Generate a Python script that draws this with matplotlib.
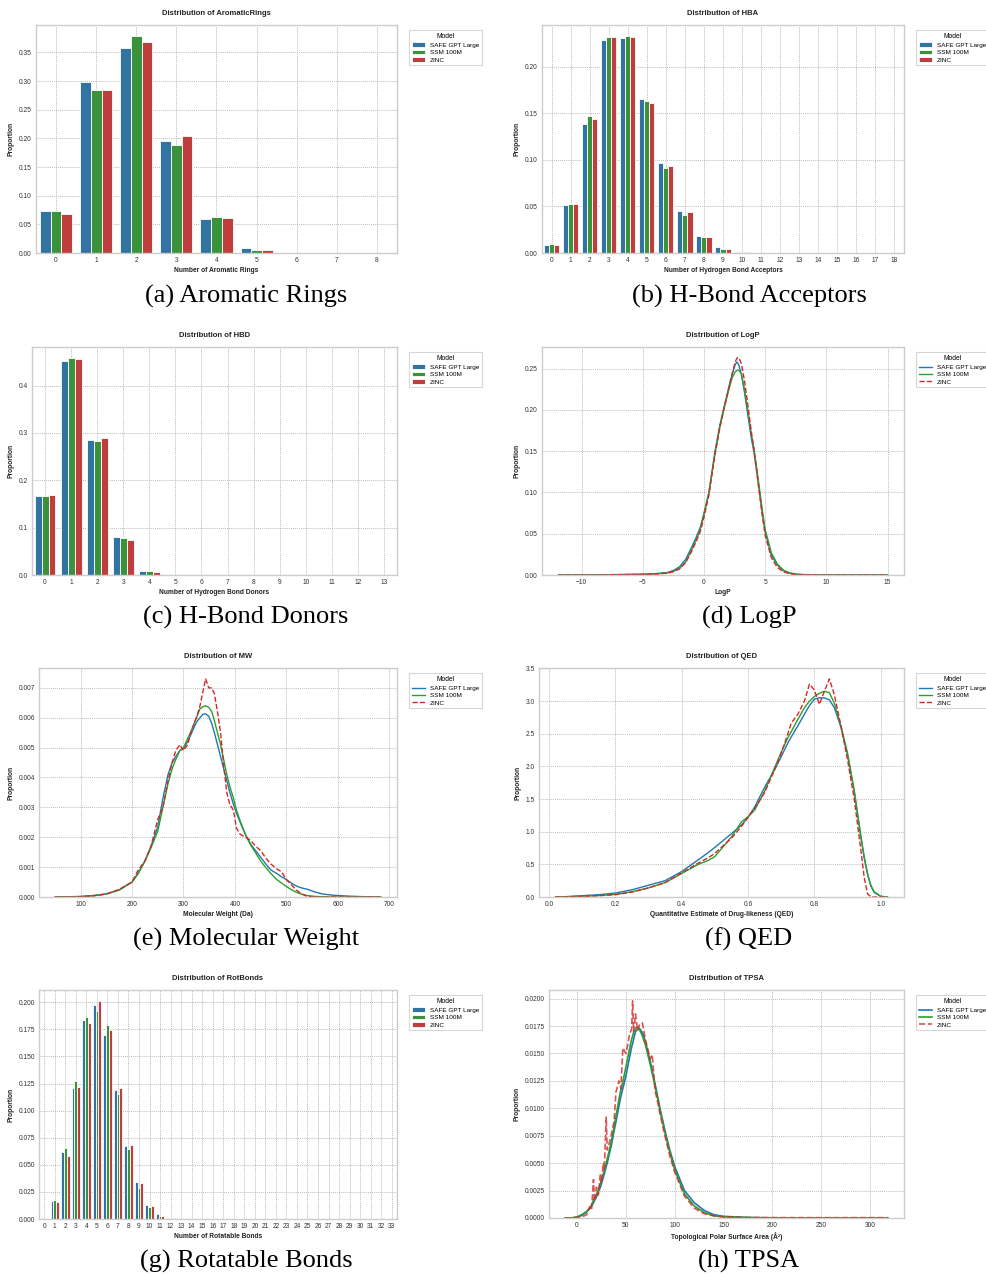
import numpy as np
import matplotlib
matplotlib.use("Agg")
import matplotlib.pyplot as plt

# ---------------- data ----------------
models = ["SAFE GPT Large", "SSM 100M", "ZINC"]

ar_cats = list(range(0, 9))
ar_safe = [0.073, 0.298, 0.357, 0.195, 0.060, 0.008, 0.0004, 0.00003, 0.00001]
ar_ssm = [0.0735, 0.284, 0.379, 0.188, 0.062, 0.006, 0.0003, 0.00002, 0.00001]
ar_zinc = [0.068, 0.285, 0.368, 0.205, 0.061, 0.006, 0.0003, 0.00002, 0.00001]

hba_cats = list(range(0, 19))
hba_safe = [0.0083, 0.051, 0.138, 0.229, 0.2312, 0.1655, 0.0962, 0.045, 0.0187, 0.0068,
            0.0014, 0.0003, 0.0001, 0.00005, 0.00003, 0.00002, 0.00001, 0.00001, 0.00001]
hba_ssm = [0.0097, 0.053, 0.1465, 0.2316, 0.233, 0.163, 0.0908, 0.041, 0.0172, 0.0043,
           0.0006, 0.0001, 0.00004, 0.00002, 0.00001, 0.00001, 0.00001, 0.00001, 0.00001]
hba_zinc = [0.009, 0.053, 0.1436, 0.2316, 0.232, 0.161, 0.0937, 0.0445, 0.0169, 0.0047,
            0.001, 0.0002, 0.00005, 0.00002, 0.00001, 0.00001, 0.00001, 0.00001, 0.00001]

hbd_cats = list(range(0, 14))
hbd_safe = [0.1658, 0.4515, 0.285, 0.081, 0.0092, 0.0007, 0.0001, 0.00004, 0.00002,
            0.00001, 0.00001, 0.00001, 0.00001, 0.00001]
hbd_ssm = [0.1658, 0.4586, 0.282, 0.078, 0.0092, 0.0005, 0.00008, 0.00003, 0.00001,
           0.00001, 0.00001, 0.00001, 0.00001, 0.00001]
hbd_zinc = [0.168, 0.4557, 0.289, 0.074, 0.007, 0.0003, 0.00005, 0.00002, 0.00001,
            0.00001, 0.00001, 0.00001, 0.00001, 0.00001]

rb_cats = list(range(0, 34))
rb_safe = [0.0005, 0.0167, 0.0621, 0.1209, 0.1833, 0.1972, 0.170, 0.1193, 0.0671, 0.0337,
           0.013, 0.0046, 0.0012, 0.0004, 0.0002, 0.0001, 0.00005, 0.00003, 0.00002, 0.00001,
           0.00001, 0.00001, 0.00001, 0.00001, 0.00001, 0.00001, 0.00001, 0.00001, 0.00001,
           0.00001, 0.00001, 0.00001, 0.00001, 0.00001]
rb_ssm = [0.0003, 0.0176, 0.0652, 0.1274, 0.1864, 0.192, 0.179, 0.1153, 0.0643, 0.029,
          0.0111, 0.0031, 0.0006, 0.0002, 0.0001, 0.00005, 0.00003, 0.00002, 0.00001, 0.00001,
          0.00001, 0.00001, 0.00001, 0.00001, 0.00001, 0.00001, 0.00001, 0.00001, 0.00001,
          0.00001, 0.00001, 0.00001, 0.00001, 0.00001]
rb_zinc = [0.0002, 0.0158, 0.0578, 0.1221, 0.1808, 0.2012, 0.1747, 0.1206, 0.0686, 0.0331,
           0.0124, 0.0031, 0.0006, 0.0002, 0.0001, 0.00005, 0.00003, 0.00002, 0.00001, 0.00001,
           0.00001, 0.00001, 0.00001, 0.00001, 0.00001, 0.00001, 0.00001, 0.00001, 0.00001,
           0.00001, 0.00001, 0.00001, 0.00001, 0.00001]

logp_x = [-11.9, -9, -7, -5, -4, -3, -2.5, -2, -1.5, -1, -0.6, -0.3, 0, 0.4, 0.9, 1.3, 1.6,
          2.0, 2.3, 2.55, 2.7, 2.85, 3.05, 3.3, 3.6, 3.85, 4.1, 4.3, 4.5, 4.75, 5.0, 5.5,
          6.0, 6.5, 7.0, 7.5, 8, 9, 10, 12, 15]
logp_safe = [0, 0.0002, 0.0005, 0.001, 0.0016, 0.003, 0.0055, 0.010, 0.019, 0.034, 0.047,
             0.058, 0.075, 0.10, 0.15, 0.182, 0.201, 0.226, 0.243, 0.255, 0.258, 0.254,
             0.243, 0.222, 0.192, 0.167, 0.147, 0.126, 0.104, 0.076, 0.052, 0.024, 0.012,
             0.005, 0.0022, 0.0009, 0.0005, 0.0002, 0.0001, 0.00003, 0]
logp_ssm = [0, 0.0002, 0.0005, 0.0008, 0.0013, 0.0025, 0.0045, 0.008, 0.016, 0.031, 0.044,
            0.056, 0.074, 0.10, 0.148, 0.180, 0.199, 0.223, 0.239, 0.246, 0.248, 0.248,
            0.244, 0.225, 0.197, 0.172, 0.151, 0.130, 0.108, 0.080, 0.055, 0.027, 0.013,
            0.0058, 0.0026, 0.0011, 0.0006, 0.0002, 0.0001, 0.00002, 0]
logp_zinc = [0, 0.0001, 0.0003, 0.0007, 0.0011, 0.0022, 0.004, 0.0075, 0.015, 0.029, 0.042,
             0.053, 0.070, 0.097, 0.146, 0.179, 0.200, 0.225, 0.244, 0.258, 0.263, 0.263,
             0.256, 0.236, 0.204, 0.175, 0.150, 0.126, 0.102, 0.073, 0.048, 0.021, 0.009,
             0.0038, 0.0015, 0.0006, 0.0003, 0.0001, 0.00005, 0, 0]

mw_x = [51, 80, 100, 125, 150, 175, 200, 212, 225, 237, 250, 260, 270, 278, 285, 293, 300,
        308, 316, 325, 332, 338, 343, 349, 355, 360, 366, 372, 378, 384, 390, 397, 403, 410,
        420, 430, 440, 450, 460, 470, 480, 490, 500, 510, 520, 530, 540, 555, 570, 590, 620,
        650, 683]
mw_safe = [0, 0.00001, 0.00002, 0.00005, 0.0001, 0.00024, 0.0005, 0.0008, 0.0012, 0.0017,
           0.00235, 0.0033, 0.0041, 0.0045, 0.0047, 0.0049, 0.00497, 0.0052, 0.0055, 0.00585,
           0.006, 0.00612, 0.00613, 0.00605, 0.0058, 0.0055, 0.0051, 0.0047, 0.0043, 0.0039,
           0.0035, 0.0031, 0.0028, 0.0025, 0.0021, 0.00178, 0.00155, 0.00133, 0.0011, 0.0009,
           0.0008, 0.00068, 0.00058, 0.00046, 0.00036, 0.0003, 0.00026, 0.00017, 0.0001,
           0.00006, 0.00003, 0.00001, 0]
mw_ssm = [0, 0, 0.00001, 0.00004, 0.0001, 0.00023, 0.0005, 0.00078, 0.0012, 0.00165, 0.0022,
          0.003, 0.0038, 0.0043, 0.0046, 0.0049, 0.005, 0.0053, 0.0056, 0.006, 0.0063, 0.00637,
          0.0064, 0.00635, 0.0062, 0.0059, 0.0055, 0.0051, 0.0046, 0.0041, 0.0037, 0.0033,
          0.0029, 0.00255, 0.0021, 0.00175, 0.00148, 0.0012, 0.00098, 0.00078, 0.0006, 0.00047,
          0.00035, 0.00024, 0.00015, 0.00009, 0.00005, 0.00002, 0.00001, 0, 0, 0, 0]
mw_zinc = [0, 0, 0.00001, 0.00004, 0.0001, 0.00025, 0.0005, 0.0009, 0.0012, 0.0017, 0.0026,
           0.003, 0.0039, 0.0045, 0.0049, 0.0051, 0.0049, 0.0051, 0.0056, 0.006, 0.0064, 0.0069,
           0.0073, 0.007, 0.007, 0.0068, 0.0062, 0.0055, 0.0044, 0.0035, 0.0031, 0.0029, 0.0023,
           0.0021, 0.002, 0.0019, 0.0017, 0.00155, 0.0013, 0.0011, 0.00095, 0.00085, 0.00058,
           0.0004, 0.00022, 0.0001, 0.00002, 0, 0, 0, 0, 0, 0]

qed_x = [0.02, 0.05, 0.1, 0.15, 0.2, 0.25, 0.3, 0.35, 0.4, 0.45, 0.48, 0.5, 0.55, 0.58, 0.6,
         0.62, 0.65, 0.68, 0.7, 0.72, 0.73, 0.75, 0.77, 0.785, 0.8, 0.815, 0.83, 0.845, 0.86,
         0.88, 0.9, 0.92, 0.94, 0.95, 0.96, 0.97, 0.98, 1.0, 1.02]
qed_safe = [0.002, 0.005, 0.02, 0.035, 0.06, 0.11, 0.18, 0.25, 0.39, 0.57, 0.68, 0.76, 0.97,
            1.1, 1.22, 1.38, 1.68, 1.95, 2.15, 2.36, 2.45, 2.62, 2.8, 2.93, 3.03, 3.05, 3.05,
            3.02, 2.9, 2.6, 2.17, 1.62, 0.92, 0.6, 0.35, 0.17, 0.07, 0.01, 0]
qed_ssm = [0.001, 0.003, 0.012, 0.022, 0.04, 0.08, 0.14, 0.22, 0.36, 0.5, 0.56, 0.62, 0.92,
           1.15, 1.23, 1.33, 1.62, 1.98, 2.22, 2.44, 2.53, 2.72, 2.9, 3.0, 3.07, 3.12, 3.15,
           3.13, 2.97, 2.62, 2.2, 1.63, 0.93, 0.62, 0.36, 0.18, 0.08, 0.01, 0]
qed_zinc = [0.001, 0.003, 0.01, 0.02, 0.035, 0.075, 0.14, 0.22, 0.37, 0.52, 0.6, 0.67, 0.9,
            1.08, 1.22, 1.36, 1.6, 1.95, 2.2, 2.5, 2.66, 2.8, 3.0, 3.26, 3.17, 2.95, 3.15,
            3.34, 3.1, 2.62, 2.1, 1.5, 0.72, 0.3, 0.05, 0.0, 0, 0, 0]

tpsa_x = [-12, -5, 0, 5, 10, 13, 15, 17, 18, 20, 22, 24, 25, 27, 28, 30, 31, 33, 35, 38, 40,
          43, 45, 47, 50, 52, 54, 56, 57, 58, 60, 62, 64, 67, 70, 75, 77, 80, 83, 85, 90, 95,
          100, 110, 120, 130, 140, 150, 175, 200, 250, 318]
tpsa_safe = [0, 0.00001, 0.00006, 0.00024, 0.00055, 0.00085, 0.00107, 0.0014, 0.0016, 0.0019,
             0.0024, 0.0028, 0.0031, 0.0037, 0.004, 0.0047, 0.005, 0.0058, 0.0065, 0.0079,
             0.0088, 0.0102, 0.0111, 0.0118, 0.0129, 0.0138, 0.0147, 0.0156, 0.0159, 0.0163,
             0.017, 0.0172, 0.0173, 0.0169, 0.0161, 0.0143, 0.0135, 0.0122, 0.0109, 0.01,
             0.008, 0.0062, 0.0047, 0.0025, 0.0014, 0.0007, 0.0003, 0.00015, 0.00005, 0.00002,
             0.00001, 0]
tpsa_ssm = [0, 0.00002, 0.0001, 0.0003, 0.0006, 0.0009, 0.0012, 0.0016, 0.0018, 0.0021,
            0.0026, 0.0031, 0.0034, 0.004, 0.0043, 0.005, 0.0054, 0.0061, 0.0069, 0.0083,
            0.0093, 0.0108, 0.0117, 0.0124, 0.0137, 0.0146, 0.0155, 0.0163, 0.0166, 0.0169,
            0.0173, 0.0174, 0.0172, 0.0166, 0.0158, 0.014, 0.0132, 0.012, 0.0107, 0.0098,
            0.0078, 0.006, 0.0044, 0.0022, 0.0011, 0.0005, 0.0002, 0.0001, 0.00003, 0.00001,
            0, 0]
tpsa_zinc = [0, 0, 0.00003, 0.0001, 0.0003, 0.001, 0.0007, 0.0035, 0.0015, 0.0028, 0.0021,
             0.004, 0.0032, 0.005, 0.0044, 0.0092, 0.0062, 0.0068, 0.0075, 0.0088, 0.0115,
             0.0125, 0.0118, 0.0155, 0.015, 0.0158, 0.0168, 0.0172, 0.0198, 0.017, 0.0186,
             0.0171, 0.0176, 0.0178, 0.0163, 0.0145, 0.0149, 0.0116, 0.0104, 0.0095, 0.0075,
             0.0057, 0.0042, 0.002, 0.0009, 0.0004, 0.0002, 0.0001, 0.00004, 0.00003, 0.00003,
             0.00003]

captions = ["(a) Aromatic Rings", "(b) H-Bond Acceptors", "(c) H-Bond Donors", "(d) LogP",
            "(e) Molecular Weight", "(f) QED", "(g) Rotatable Bonds", "(h) TPSA"]

# ---------------- style ----------------
W, H = 987, 1277
fig = plt.figure(figsize=(W / 100, H / 100), dpi=100)
plt.rcParams['font.family'] = ['Liberation Sans', 'DejaVu Sans']

bar_colors = ["#3274a1", "#3a923a", "#c03d3e"]
line_colors = ["#1f77b4", "#2ca02c", "#d62728"]
TICK_FS = 4.8
LAB_FS = 4.8
TITLE_FS = 5.5
LEG_FS = 4.6


def make_ax(left, top, right, bottom):
    ax = fig.add_axes([left / W, 1 - bottom / H, (right - left) / W, (bottom - top) / H])
    ax.set_facecolor("white")
    for s in ax.spines.values():
        s.set_color("#cccccc")
        s.set_linewidth(1.0)
    ax.grid(True, linestyle=(0, (1, 1)), color="#bdbdbd", linewidth=0.7)
    ax.set_axisbelow(True)
    ax.tick_params(length=0, labelsize=TICK_FS, colors="#333333", pad=3)
    return ax


def style(ax, title, xlabel):
    ax.set_title(title, fontsize=TITLE_FS, fontweight="bold", pad=7.5, color="#222222")
    ax.set_xlabel(xlabel, fontsize=LAB_FS, fontweight="bold", labelpad=2, color="#222222")
    ax.set_ylabel("Proportion", fontsize=LAB_FS, fontweight="bold", labelpad=3, color="#222222")
    leg = ax.legend(title="Model", loc="upper left", bbox_to_anchor=(1.025, 0.99),
                    fontsize=LEG_FS, title_fontsize=LEG_FS + 0.3, frameon=True,
                    fancybox=False, borderpad=0.45, labelspacing=0.3, handlelength=2.0)
    leg.get_frame().set_edgecolor("#cccccc")
    leg.get_frame().set_linewidth(0.8)


def bar_panel(ax, cats, series, title, xlabel):
    cats = np.asarray(cats)
    n = len(series)
    w = 0.8 / n
    for i, (vals, name) in enumerate(zip(series, models)):
        ax.bar(cats + (i - (n - 1) / 2) * w, vals, width=w, color=bar_colors[i],
               edgecolor="white", linewidth=0.6, label=name)
    ax.set_xticks(cats)
    ax.set_xticklabels([str(c) for c in cats])
    ax.set_xlim(cats[0] - 0.5, cats[-1] + 0.5)
    ax.set_ylim(bottom=0)
    style(ax, title, xlabel)


def kde_panel(ax, x, series, title, xlabel, lw=1.0, zinc_alpha=1.0):
    for i, (vals, name) in enumerate(zip(series, models)):
        ls = "--" if i == 2 else "-"
        ax.plot(x, vals, color=line_colors[i], linestyle=ls, linewidth=lw, label=name,
                alpha=(zinc_alpha if i == 2 else 1.0))
    ax.set_ylim(bottom=0)
    style(ax, title, xlabel)


ax = make_ax(36, 25, 397, 253)
bar_panel(ax, ar_cats, [ar_safe, ar_ssm, ar_zinc], "Distribution of AromaticRings",
          "Number of Aromatic Rings")

ax = make_ax(542, 25, 904, 253)
bar_panel(ax, hba_cats, [hba_safe, hba_ssm, hba_zinc], "Distribution of HBA",
          "Number of Hydrogen Bond Acceptors")

ax = make_ax(32, 347, 397, 575)
bar_panel(ax, hbd_cats, [hbd_safe, hbd_ssm, hbd_zinc], "Distribution of HBD",
          "Number of Hydrogen Bond Donors")

ax = make_ax(542, 347, 904, 575)
kde_panel(ax, logp_x, [logp_safe, logp_ssm, logp_zinc], "Distribution of LogP", "LogP")
ax.set_xticks([-10, -5, 0, 5, 10, 15])

ax = make_ax(39, 668, 397, 897)
kde_panel(ax, mw_x, [mw_safe, mw_ssm, mw_zinc], "Distribution of MW", "Molecular Weight (Da)")
ax.set_xticks([100, 200, 300, 400, 500, 600, 700])

ax = make_ax(539, 668, 904, 897)
kde_panel(ax, qed_x, [qed_safe, qed_ssm, qed_zinc], "Distribution of QED",
          "Quantitative Estimate of Drug-likeness (QED)")

ax = make_ax(39, 990, 397, 1219)
bar_panel(ax, rb_cats, [rb_safe, rb_ssm, rb_zinc], "Distribution of RotBonds",
          "Number of Rotatable Bonds")

ax = make_ax(549, 990, 904, 1218)
kde_panel(ax, tpsa_x, [tpsa_safe, tpsa_ssm, tpsa_zinc], "Distribution of TPSA",
          "Topological Polar Surface Area (Å²)", lw=1.2, zinc_alpha=0.8)

# captions
cap_pos = [(246, 296), (749, 296), (246, 617), (749, 617),
           (246, 939), (749, 939), (246, 1261), (749, 1261)]
for (cx, cy), cap in zip(cap_pos, captions):
    fig.text(cx / W, 1 - cy / H, cap, ha="center", va="center", fontsize=19,
             family=["Liberation Serif", "DejaVu Serif"], color="black")

fig.savefig("out.png", dpi=100, facecolor="white")
